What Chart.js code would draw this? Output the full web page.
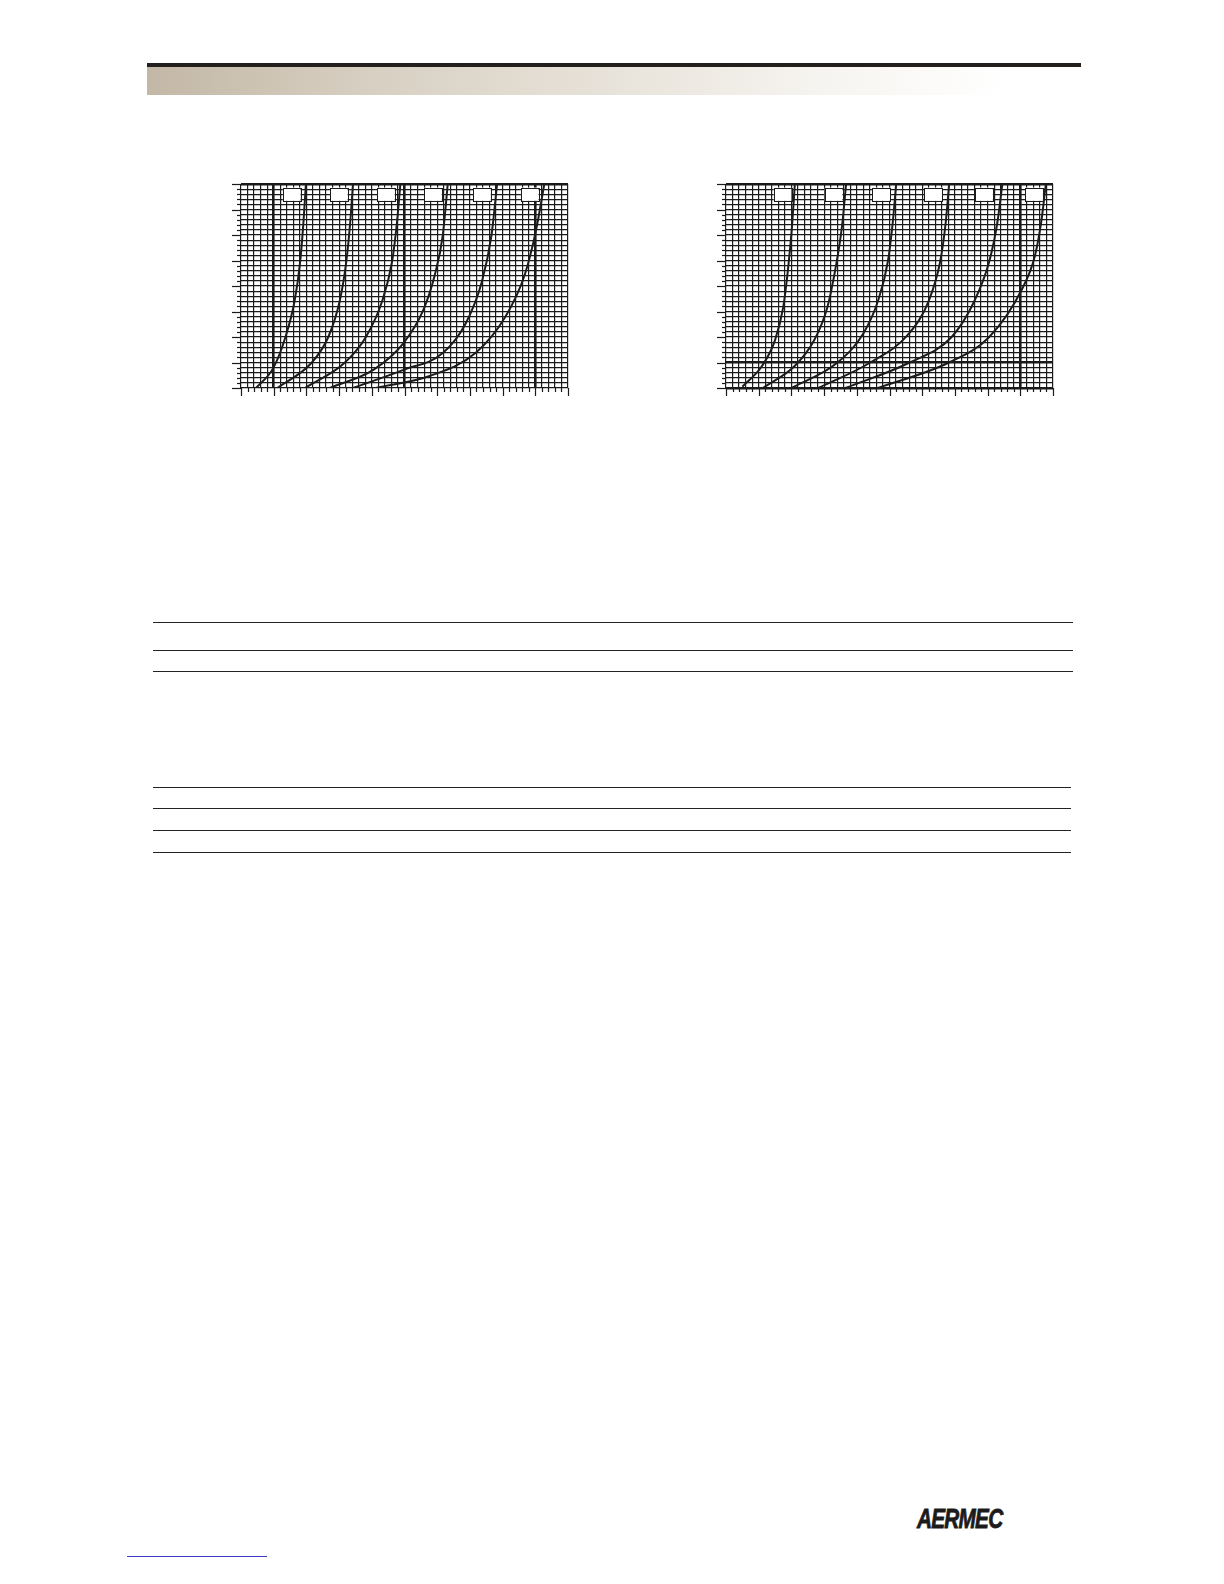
<!DOCTYPE html>
<html>
<head>
<meta charset="utf-8">
<script src="https://cdn.jsdelivr.net/npm/chart.js@4.4.1/dist/chart.umd.min.js"></script>
<style>
  html, body { margin: 0; padding: 0; background: #fff; }
  body { width: 1224px; height: 1584px; position: relative; overflow: hidden; font-family: "Liberation Sans", Arial, sans-serif; }
  .topbar { position: absolute; left: 147px; top: 63px; width: 934px; height: 4px; background: #231f1c; }
  .band { position: absolute; left: 147px; top: 67px; width: 934px; height: 28px;
          background: linear-gradient(to right, #c3b8a6 0%, #d8d0c3 25%, #e8e3da 50%, #f6f4f0 72%, #ffffff 92%); }
  .chartbox { position: absolute; top: 174px; width: 357px; height: 234px; }
  .rule { position: absolute; height: 0; border-top: 1.3px solid #222; }
  .logo { position: absolute; left: 917px; top: 1503px; font: italic bold 28px "Liberation Sans", Arial, sans-serif;
          color: #1b1b1b; transform: scaleX(0.74); transform-origin: left top; letter-spacing: -1px;
          -webkit-text-stroke: 0.8px #1b1b1b; }
  .link { position: absolute; left: 127px; top: 1556px; width: 140px; height: 0; border-top: 1px solid #3b3bc4; }
</style>
</head>
<body>
<div class="topbar"></div>
<div class="band"></div>

<div class="chartbox" style="left:221px"><canvas id="leftChart"></canvas></div>
<div class="chartbox" style="left:706px"><canvas id="rightChart"></canvas></div>

<div class="rule" style="left:153px; top:622px; width:920px"></div>
<div class="rule" style="left:153px; top:650px; width:920px"></div>
<div class="rule" style="left:153px; top:671px; width:920px"></div>
<div class="rule" style="left:153px; top:787px; width:918px"></div>
<div class="rule" style="left:153px; top:808px; width:918px"></div>
<div class="rule" style="left:153px; top:830px; width:918px"></div>
<div class="rule" style="left:153px; top:852px; width:918px"></div>

<div class="logo">AERMEC</div>
<div class="link"></div>

<script>
// grid-paper axes: 10 major divisions across, 8 up, 5 minor each
const xMax = 10;
const yMax = 8;
const minorStep = 0.2;

// left chart curves (flow on x, pressure drop on y)
const leftX = [
  [0.46, 0.99, 1.36, 1.64, 1.81, 1.91, 1.99],
  [1.11, 2.16, 2.67, 3.02, 3.22, 3.34, 3.43],
  [1.96, 3.17, 3.82, 4.32, 4.62, 4.77, 4.88],
  [2.72, 4.07, 4.97, 5.57, 5.93, 6.17, 6.33],
  [3.42, 4.97, 6.17, 6.87, 7.37, 7.66, 7.84],
  [4.12, 5.77, 7.17, 8.08, 8.68, 9.03, 9.29]
];
const leftY = [
  [0, 0.79, 2.0, 3.42, 4.96, 6.5, 8.1],
  [0, 0.99, 2.0, 3.42, 4.96, 6.5, 8.1],
  [0, 0.99, 2.0, 3.42, 4.96, 6.5, 8.1],
  [0, 0.73, 1.76, 3.04, 4.45, 5.99, 8.1],
  [0, 0.71, 1.37, 2.53, 4.19, 5.99, 8.1],
  [0, 0.47, 1.37, 2.78, 4.45, 6.24, 8.1]
];

// right chart curves
const rightX = [
  [0.50, 1.10, 1.50, 1.75, 1.90, 2.02, 2.11],
  [1.13, 2.10, 2.70, 3.10, 3.35, 3.55, 3.68],
  [2.00, 3.40, 4.20, 4.65, 4.95, 5.10, 5.21],
  [2.82, 4.40, 5.60, 6.20, 6.55, 6.72, 6.83],
  [3.65, 5.60, 6.90, 7.60, 8.05, 8.30, 8.46],
  [4.65, 6.80, 8.05, 9.05, 9.45, 9.65, 9.79]
];
const rightY = [
  [0.05, 0.86, 1.88, 3.17, 4.70, 6.37, 8.1],
  [0, 0.86, 1.88, 3.17, 4.70, 6.37, 8.1],
  [0, 0.99, 2.14, 3.42, 4.96, 6.50, 8.1],
  [0, 0.99, 2.14, 3.42, 4.96, 6.50, 8.1],
  [0, 0.99, 2.00, 3.42, 4.96, 6.50, 8.1],
  [0, 0.99, 2.00, 3.87, 5.20, 6.60, 8.1]
];

// empty label boxes near the top of each curve (left edge, in x units)
const leftBoxX = [1.28, 2.72, 4.16, 5.60, 7.10, 8.56];
const rightBoxX = [1.46, 3.02, 4.48, 6.07, 7.62, 9.15];

function isWhole(v, n) {
  return Math.abs(v - n) < 1e-6;
}

const paperPlugin = {
  id: "paper",
  afterDatasetsDraw(chart, args, opts) {
    const ctx = chart.ctx;
    const xs = chart.scales.x, ys = chart.scales.y;
    const area = chart.chartArea;
    ctx.save();
    ctx.strokeStyle = "#1a1a1a";
    ctx.lineWidth = 1.2;
    // tick marks below the x axis
    for (let i = 0; i <= xMax / minorStep; i++) {
      const px = Math.round(xs.getPixelForValue(i * minorStep)) + 0.5;
      const len = i % 5 === 0 ? 8 : 4;
      ctx.beginPath();
      ctx.moveTo(px, area.bottom);
      ctx.lineTo(px, area.bottom + len);
      ctx.stroke();
    }
    // tick marks left of the y axis
    for (let i = 0; i <= yMax / minorStep; i++) {
      const py = Math.round(ys.getPixelForValue(i * minorStep)) + 0.5;
      const len = i % 5 === 0 ? 9 : 4;
      ctx.beginPath();
      ctx.moveTo(area.left, py);
      ctx.lineTo(area.left - len, py);
      ctx.stroke();
    }
    // label boxes
    ctx.fillStyle = "#fff";
    ctx.lineWidth = 1;
    opts.boxes.forEach(bx => {
      const x0 = xs.getPixelForValue(bx);
      const x1 = xs.getPixelForValue(bx + 0.54);
      const y0 = ys.getPixelForValue(7.86);
      const y1 = ys.getPixelForValue(7.34);
      ctx.fillRect(x0, y0, x1 - x0, y1 - y0);
      ctx.strokeRect(Math.round(x0) + 0.5, Math.round(y0) + 0.5, Math.round(x1 - x0), Math.round(y1 - y0));
    });
    ctx.restore();
  }
};

function makeChart(id, xsData, ysData, boxes, thickX, thickY) {
  const datasets = xsData.map((xv, i) => ({
    data: xv.map((x, j) => ({ x: x, y: ysData[i][j] })),
    borderColor: "#1c1c1c",
    borderWidth: 2,
    pointRadius: 0,
    cubicInterpolationMode: "monotone",
    fill: false
  }));

  const gridWidth = (thick) => (c) => {
    const v = c.tick ? c.tick.value : 0;
    return thick.some(t => isWhole(v, t)) ? 2.6 : 1.2;
  };

  return new Chart(document.getElementById(id), {
    type: "line",
    data: { datasets: datasets },
    plugins: [paperPlugin],
    options: {
      responsive: true,
      maintainAspectRatio: false,
      animation: false,
      devicePixelRatio: 1,
      layout: { padding: { left: 0, top: 10, right: 10, bottom: 0 } },
      plugins: {
        legend: { display: false },
        tooltip: { enabled: false },
        paper: { boxes: boxes }
      },
      scales: {
        x: {
          type: "linear",
          min: 0,
          max: xMax,
          ticks: { display: false, stepSize: minorStep },
          grid: { color: "#1a1a1a", lineWidth: gridWidth(thickX), drawTicks: false },
          border: { display: false },
          afterFit: (s) => { s.height = 20; }
        },
        y: {
          type: "linear",
          min: 0,
          max: yMax,
          ticks: { display: false, stepSize: minorStep },
          grid: { color: "#1a1a1a", lineWidth: gridWidth(thickY), drawTicks: false },
          border: { display: false },
          afterFit: (s) => { s.width = 20; }
        }
      }
    }
  });
}

makeChart("leftChart", leftX, leftY, leftBoxX, [1, 5, 9], [8]);
makeChart("rightChart", rightX, rightY, rightBoxX, [9], [0, 1, 8]);
</script>
</body>
</html>
